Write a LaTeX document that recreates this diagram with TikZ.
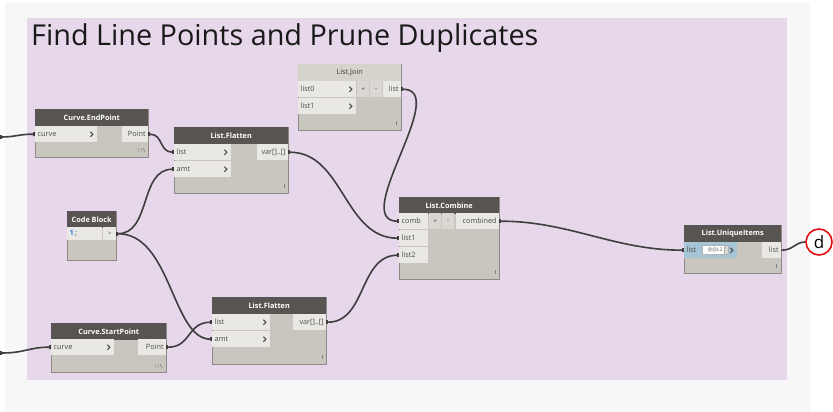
\documentclass[tikz,border=0pt]{standalone}
\usepackage{fontspec}
\setmainfont{Open Sans}
\usetikzlibrary{arrows.meta}
\definecolor{outerbg}{HTML}{F7F7F7}
\definecolor{grp}{HTML}{E6D8EA}
\definecolor{hdr}{HTML}{575452}
\definecolor{lhdr}{HTML}{D6D3CD}
\definecolor{bodyc}{HTML}{C9C6C0}
\definecolor{portc}{HTML}{E9E8E4}
\definecolor{btnc}{HTML}{DAD7D2}
\definecolor{nborder}{HTML}{8E8B87}
\definecolor{wirec}{HTML}{3E3E3E}
\definecolor{blueport}{HTML}{A6C5D7}
\definecolor{txtc}{HTML}{4A4A4A}
\definecolor{redc}{HTML}{E01010}
\definecolor{codeblue}{HTML}{2E7BD6}
\tikzset{x=1pt,y=-1pt,
  nbody/.style={draw=nborder, line width=0.8pt, fill=bodyc, anchor=north west, inner sep=0pt},
  nhead/.style={fill=hdr, text=white, font=\bfseries\fontsize{7.3}{8}\selectfont, anchor=north west, inner sep=0pt, minimum height=17pt},
  lhead/.style={fill=lhdr, text=txtc!80!black, font=\fontsize{7.3}{8}\selectfont, anchor=north west, inner sep=0pt, minimum height=17pt},
  pin/.style={fill=portc, anchor=north west, inner sep=0pt, minimum height=16pt, minimum width=#1},
  bin/.style={fill=blueport, anchor=north west, inner sep=0pt, minimum height=16pt, minimum width=#1},
  btn/.style={fill=btnc, anchor=north west, inner sep=0pt, minimum height=16pt, minimum width=#1, text=txtc, font=\fontsize{6.5}{7}\selectfont},
  plab/.style={font=\fontsize{7.3}{8}\selectfont, text=txtc, inner sep=2.5pt},
  wire/.style={draw=wirec, line width=1.6pt, {Rectangle[length=2pt,width=4pt]}-{Rectangle[length=2pt,width=4pt]}},
  chevron/.pic={\draw[line width=1.1pt, txtc] (-7,-2.5) -- (-4.5,0) -- (-7,2.5);},
  lace/.pic={\draw[line width=0.5pt, gray] (0,-2) -- (0,2);},
}
\begin{document}
\begin{tikzpicture}
\useasboundingbox (0,0) rectangle (833,412);
\fill[white] (0,0) rectangle (833,412);
\fill[outerbg] (5,2) rectangle (810,412);
\fill[grp] (27,18) rectangle (787,380);
\node[anchor=base west, inner sep=0pt, text=black!90, font=\fontsize{28.8}{32}\selectfont] (title) at (31,46) {Find Line Points and Prune Duplicates};

% Curve.EndPoint
\node[nbody, minimum width=113pt, minimum height=48pt] (ep) at (35,109) {};
\node[nhead, minimum width=113pt] (eph) at (35,109) {Curve.EndPoint};
\node[pin=62pt, label={[plab,anchor=west]west:curve}] (epc) at (35,126) {};
\pic at (epc.east) {chevron};
\node[pin=26pt, label={[plab,anchor=east]east:Point}] (epo) at (122,126) {};
\draw[line width=0.5pt, gray] (138,148) -- (138,152) (141,148) -- (141,152) (143,148) -- (145,152);

% List.Flatten (top)
\node[nbody, minimum width=114pt, minimum height=66pt] (fa) at (174,127) {};
\node[nhead, minimum width=114pt] (fah) at (174,127) {List.Flatten};
\node[pin=57pt, label={[plab,anchor=west]west:list}] (fal) at (174,144) {};
\node[pin=57pt, label={[plab,anchor=west]west:amt}] (faa) at (174,161) {};
\pic at (fal.east) {chevron};
\pic at (faa.east) {chevron};
\node[pin=31pt, label={[plab,anchor=east]east:var[]..[]}] (fao) at (257,144) {};
\pic at (284,186) {lace};

% Code Block
\node[nbody, minimum width=49pt, minimum height=49pt] (cb) at (67,211) {};
\node[nhead, minimum width=49pt] (cbh) at (67,211) {Code Block};
\node[pin=35pt, minimum height=13pt, label={[plab,anchor=west]west:{\textcolor{codeblue}{\bfseries 1}\,;}}] (cbr) at (67,227) {};
\node[pin=13pt, minimum height=13pt, font=\fontsize{6}{7}\selectfont, text=txtc] (cbo) at (103,227) {>};

% List.Join
\node[nbody, minimum width=103pt, minimum height=66pt] (lj) at (298,64) {};
\node[lhead, minimum width=103pt] (ljh) at (298,64) {List.Join};
\node[pin=58pt, label={[plab,anchor=west]west:list0}] (lj0) at (298,81) {};
\node[pin=58pt, label={[plab,anchor=west]west:list1}] (lj1) at (298,98) {};
\pic at (lj0.east) {chevron};
\pic at (lj1.east) {chevron};
\node[btn=12pt] (ljp) at (357,81) {+};
\node[btn=12pt] (ljm) at (370,81) {-};
\node[pin=18pt, label={[plab,anchor=east]east:list}] (ljo) at (383,81) {};
\pic at (396,123) {lace};

% List.Combine
\node[nbody, minimum width=100pt, minimum height=82pt] (lc) at (399,197) {};
\node[nhead, minimum width=100pt] (lch) at (399,197) {List.Combine};
\node[pin=29pt, label={[plab,anchor=west]west:comb}] (lcc) at (399,213) {};
\node[pin=29pt, label={[plab,anchor=west]west:list1}] (lc1) at (399,230) {};
\node[pin=29pt, label={[plab,anchor=west]west:list2}] (lc2) at (399,247) {};
\node[btn=12pt] (lcp) at (429,213) {+};
\node[btn=12pt] (lcm) at (442,213) {-};
\node[pin=43pt, label={[plab,anchor=east]east:combined}] (lco) at (456,213) {};
\pic at (495,272) {lace};

% List.UniqueItems
\node[nbody, minimum width=97pt, minimum height=48pt] (lu) at (684,225) {};
\node[nhead, minimum width=97pt] (luh) at (684,225) {List.UniqueItems};
\node[bin=53pt, label={[plab,anchor=west]west:list}] (lui) at (684,242) {};
\node[fill=white, draw=gray!60, line width=0.4pt, anchor=west, inner sep=0.5pt, minimum width=26pt, minimum height=9pt, font=\fontsize{5}{6}\selectfont, text=gray!70!black] (luf) at (702,250) {@@L2};
\node[fill=btnc, draw=gray!60, line width=0.3pt, anchor=east, inner sep=0pt, minimum width=4pt, minimum height=9pt] (lus) at (luf.east) {};
\pic at (lui.east) {chevron};
\node[pin=19pt, label={[plab,anchor=east]east:list}] (luo) at (762,242) {};
\pic at (776,266) {lace};

% List.Flatten (bottom)
\node[nbody, minimum width=114pt, minimum height=67pt] (fb) at (212,297) {};
\node[nhead, minimum width=114pt] (fbh) at (212,297) {List.Flatten};
\node[pin=58pt, label={[plab,anchor=west]west:list}] (fbl) at (212,314) {};
\node[pin=58pt, label={[plab,anchor=west]west:amt}] (fba) at (212,331) {};
\pic at (fbl.east) {chevron};
\pic at (fba.east) {chevron};
\node[pin=33pt, label={[plab,anchor=east]east:var[]..[]}] (fbo) at (293,314) {};
\pic at (322,357) {lace};

% Curve.StartPoint
\node[nbody, minimum width=115pt, minimum height=49pt] (sp) at (51,323) {};
\node[nhead, minimum width=115pt] (sph) at (51,323) {Curve.StartPoint};
\node[pin=63pt, label={[plab,anchor=west]west:curve}] (spc) at (51,339) {};
\pic at (spc.east) {chevron};
\node[pin=28pt, label={[plab,anchor=east]east:Point}] (spo) at (138,339) {};
\draw[line width=0.5pt, gray] (155,364) -- (155,368) (158,364) -- (158,368) (160,364) -- (162,368);

% result marker
\node[circle, draw=redc, line width=1.6pt, fill=white, minimum size=26pt, inner sep=0pt, font=\fontsize{17}{20}\selectfont] (d) at (819,242) {d};

% free ends
\coordinate (in1) at (0,137);
\coordinate (in2) at (0,353);

% wires
\draw[wire] (in1) .. controls (15,137) and (20,134) .. (epc.west);
\draw[wire] (in2) .. controls (25,353) and (30,347) .. (spc.west);
\draw[wire] (epo.east) .. controls +(15,0) and +(-15,0) .. (fal.west);
\draw[wire] (cbo.east) .. controls +(35,0) and +(-35,0) .. (faa.west);
\draw[wire] (cbo.east) .. controls +(55,0) and +(-40,0) .. (fba.west);
\draw[wire] (spo.east) .. controls +(25,0) and +(-25,0) .. (fbl.west);
\draw[wire] (fao.east) .. controls +(55,0) and +(-55,0) .. (lc1.west);
\draw[wire] (fbo.east) .. controls +(40,0) and +(-40,0) .. (lc2.west);
\draw[wire] (ljo.east) .. controls +(50,0) and +(-50,0) .. (lcc.west);
\draw[wire] (lco.east) .. controls +(70,0) and +(-70,0) .. (lui.west);
\draw[wire, -] (luo.east) .. controls +(12,0) and +(-10,0) .. (d.west);
\end{tikzpicture}
\end{document}
